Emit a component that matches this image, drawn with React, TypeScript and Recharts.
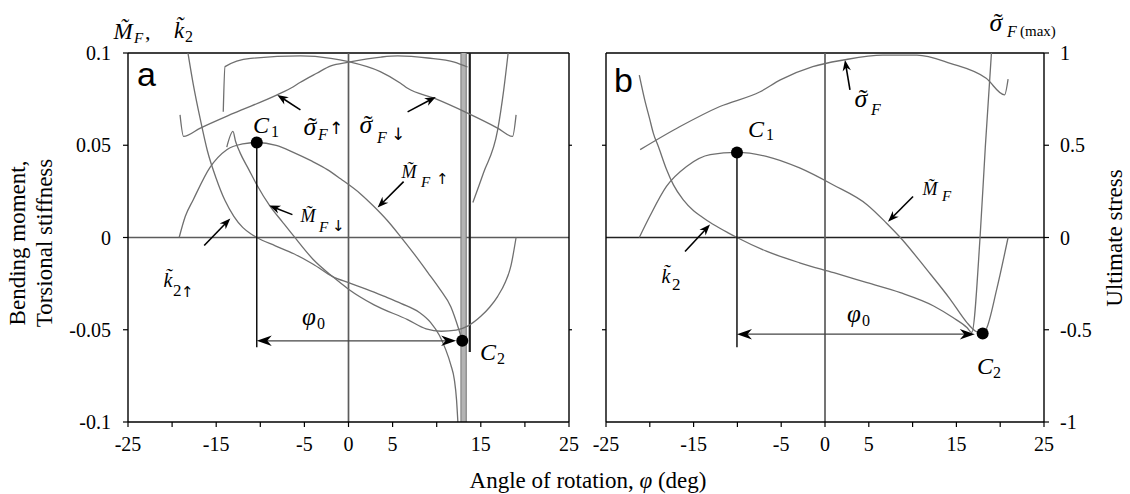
import React from 'react';
import { LineChart, Line, XAxis, YAxis, ReferenceLine, ReferenceDot } from 'recharts';

type Pt = [number, number];
type Seg = [number, number, number, number];

// ---------- axes ----------
const ANGLE_TICKS = [-25, -20, -15, -10, -5, 0, 5, 10, 15, 20, 25];
const ANGLE_LABELED = [-25, -15, -5, 0, 5, 15, 25];
const MOMENT_TICKS = [-0.1, -0.05, 0, 0.05, 0.1];
const MOMENT_MINOR_TICKS = [-0.05, 0.05];
const STRESS_TICKS = [-1, -0.5, 0, 0.5, 1];
const STRESS_MINOR_TICKS = [-0.5, 0.5];

// ---------- panel a: loading (↑) and unloading (↓) branches ----------
const MOMENT_UP_A: Pt[] = [
  [-19.2, 0], [-18.5, 0.0115], [-17.6, 0.0205], [-15.7, 0.038], [-13.8, 0.0476], [-12.0, 0.0507],
  [-10.4, 0.0515], [-8.2, 0.0499], [-6.2, 0.046], [-4.2, 0.0415], [-2.4, 0.0368], [-0.9, 0.0318],
  [1.4, 0.0235], [2.8, 0.0172], [4.4, 0.0092], [5.9, 0.0005], [7.5, -0.0093], [9.0, -0.019],
  [10.4, -0.0283], [11.6, -0.0375], [12.5, -0.0497], [12.9, -0.056],
];
const MOMENT_DOWN_A: Pt[] = [
  [-13.8, 0.049], [-13.1, 0.0575], [-12.8, 0.052], [-12.3, 0.046], [-11.3, 0.0368], [-10.4, 0.0286],
  [-8.9, 0.017], [-7.5, 0.0085], [-6.2, 0.0007], [-4.0, -0.0119], [-1.8, -0.0212], [0.0, -0.028],
  [2.9, -0.0365], [6.7, -0.0445], [8.8, -0.0495], [10.5, -0.0508], [12.2, -0.0502], [13.5, -0.048],
  [15.0, -0.0427], [16.0, -0.0378], [16.9, -0.032], [17.8, -0.024], [18.4, -0.0157], [19.0, 0],
];
const STIFFNESS_UP_A: Pt[] = [
  [-18.2, 0.1], [-17.6, 0.083], [-16.8, 0.064], [-16.0, 0.047], [-15.0, 0.032], [-14.0, 0.02],
  [-13.0, 0.0115], [-12.0, 0.0055], [-11.0, 0.0018], [-10.4, 0], [-8.3, -0.0045], [-6.2, -0.0088],
  [-4.0, -0.0145], [-1.8, -0.0212], [0.0, -0.0245], [2.0, -0.028], [4.0, -0.0318], [6.0, -0.0358],
  [8.0, -0.0405], [9.3, -0.046], [10.3, -0.053], [11.0, -0.0605], [11.6, -0.069], [12.0, -0.077],
  [12.25, -0.088], [12.4, -0.1],
];
const STIFFNESS_DOWN_A: Pt[] = [
  [14.1, 0.019], [15.3, 0.035], [16.9, 0.058], [17.6, 0.08], [18.1, 0.1],
];
const STRESS_UP_A: Pt[] = [
  [-19.1, 0.665], [-18.7, 0.548], [-16.8, 0.593], [-13.0, 0.674], [-8.1, 0.773], [-6.3, 0.816],
  [-5.5, 0.84], [-3.6, 0.89], [-2.0, 0.93], [0.0, 0.95], [3.7, 0.978], [5.6, 0.984], [9.0, 0.973],
  [12.0, 0.951], [13.5, 0.924],
];
const STRESS_DOWN_A: Pt[] = [
  [-14.2, 0.681], [-14.0, 0.926], [-11.1, 0.971], [-5.45, 0.984], [-2.0, 0.971], [0.0, 0.953],
  [3.6, 0.899], [5.9, 0.836], [6.7, 0.809], [9.7, 0.755], [13.5, 0.674], [16.9, 0.593],
  [18.6, 0.548], [19.0, 0.665],
];
// singular branches of the stiffness near the asymptote
const ASYMPTOTE_BAND_A: Pt[] = [[13.05, 0.1], [13.05, -0.1]];
const ASYMPTOTE_EDGE_L_A: Pt[] = [[12.75, 0.1], [12.75, -0.1]];
const ASYMPTOTE_EDGE_R_A: Pt[] = [[13.35, 0.1], [13.35, -0.1]];
const ASYMPTOTE_DARK_A: Pt[] = [[13.75, 0.1], [13.75, -0.062]];

const C1_A: Pt = [-10.4, 0.0515];
const C2_A: Pt = [12.9, -0.056];
const PHI_Y_A = -0.056;
const PHI_TIP_A = 12.2;
const DROP_END_A = -0.0595;
const POINTERS_A: Seg[] = [
  [-5.45, 0.0692, -8.07, 0.0773],
  [6.7, 0.0681, 9.9, 0.0762],
  [6.25, 0.0303, 3.3, 0.0162],
  [-6.36, 0.0124, -8.98, 0.0173],
  [-16.36, -0.0043, -13.4, 0.0103],
];

// ---------- panel b ----------
const MOMENT_B: Pt[] = [
  [-21.2, 0], [-20.0, 0.0115], [-18.1, 0.0277], [-15.8, 0.0385], [-13.1, 0.0449], [-10.05, 0.0461],
  [-6.7, 0.044], [-2.9, 0.0377], [0.9, 0.0286], [4.8, 0.0178], [7.0, 0.0079], [8.6, 0],
  [11.6, -0.0173], [14.3, -0.0335], [16.2, -0.0461], [17.1, -0.0505], [18.0, -0.052],
  [18.4, -0.0497], [19.6, -0.0281], [20.9, 0],
];
const STIFFNESS_B: Pt[] = [
  [-21.2, 0.088], [-20.6, 0.075], [-20.0, 0.064], [-19.6, 0.0566], [-19.0, 0.049], [-18.1, 0.037],
  [-17.3, 0.0285], [-16.2, 0.0205], [-15.0, 0.0145], [-14.0, 0.011], [-13.1, 0.0081], [-12.0, 0.005],
  [-11.0, 0.0024], [-10.05, 0], [-6.7, -0.0074], [-2.9, -0.0137], [1.0, -0.0191], [4.8, -0.0245],
  [8.6, -0.0299], [12.4, -0.0371], [14.6, -0.0434], [16.2, -0.0488], [16.75, -0.0515], [17.7, 0],
  [18.3, 0.049], [19.0, 0.1],
];
const STRESS_B: Pt[] = [
  [-21.1, 0.476], [-16.6, 0.6], [-12.0, 0.71], [-7.4, 0.79], [-5.1, 0.854], [-1.4, 0.926],
  [2.1, 0.962], [6.6, 0.989], [10.5, 0.989], [14.3, 0.944], [18.4, 0.863], [20.5, 0.773], [20.9, 0.858],
];
const C1_B: Pt = [-10.05, 0.0461];
const C2_B: Pt = [18.0, -0.052];
const PHI_Y_B = -0.0524;
const PHI_TIP_B = 17.1;
const DROP_END_B = -0.0595;
const POINTERS_B: Seg[] = [
  [2.85, 0.08, 2.28, 0.0962],
  [10.05, 0.0222, 7.19, 0.0086],
  [-15.98, -0.0076, -13.13, 0.007],
];

// ---------- styling ----------
const SERIF = 'Liberation Serif, DejaVu Serif, serif';
const SANS = 'Liberation Sans, Arial, sans-serif';
const ARROWS = 'DejaVu Sans, sans-serif';
const CURVE = '#6f6f6f';
const GRID = '#5c5c5c';
const TICK_TEXT = { fill: '#000', fontSize: 20, fontFamily: SERIF };
const AXIS_LINE = { stroke: '#000', strokeWidth: 1.4 };
const TICK_LINE = { stroke: '#000', strokeWidth: 1.2 };

const rows = (pts: Pt[]) => pts.map(([x, y]) => ({ x, y }));
const fmtAngle = (v: number) => (ANGLE_LABELED.includes(v) ? String(v) : '');
const fmtPlain = (v: number) => String(v);
const fmtBlank = () => '';

function makeArrow(len: number, half: number, width: number, color: string, both = false) {
  return (p: any) => {
    const x1 = Number(p.x1), y1 = Number(p.y1), x2 = Number(p.x2), y2 = Number(p.y2);
    if (![x1, y1, x2, y2].every(Number.isFinite)) return <g />;
    const dx = x2 - x1, dy = y2 - y1;
    const d = Math.hypot(dx, dy) || 1;
    const ux = dx / d, uy = dy / d;
    const head = (tx: number, ty: number, vx: number, vy: number) => {
      const bx = tx - vx * len, by = ty - vy * len;
      const nx = -vy, ny = vx;
      const mx = tx - vx * len * 0.7, my = ty - vy * len * 0.7;
      return `M${tx},${ty}L${bx + nx * half},${by + ny * half}L${mx},${my}L${bx - nx * half},${by - ny * half}Z`;
    };
    const sx = both ? x1 + ux * len * 0.6 : x1;
    const sy = both ? y1 + uy * len * 0.6 : y1;
    return (
      <g>
        <line x1={sx} y1={sy} x2={x2 - ux * len * 0.6} y2={y2 - uy * len * 0.6} stroke={color} strokeWidth={width} />
        <path d={head(x2, y2, ux, uy)} fill="#000" />
        {both ? <path d={head(x1, y1, -ux, -uy)} fill="#000" /> : null}
      </g>
    );
  };
}

const pointerShape = makeArrow(11, 4.2, 1.6, '#000');
const spanShape = makeArrow(15, 5.2, 1.3, '#444', true);

function curve(key: string, pts: Pt[], axis: string, stroke = CURVE, width = 1.3) {
  return (
    <Line
      key={key}
      yAxisId={axis}
      data={rows(pts)}
      dataKey="y"
      type="monotone"
      stroke={stroke}
      strokeWidth={width}
      dot={false}
      activeDot={false}
      isAnimationActive={false}
    />
  );
}

function pointer(key: string, s: Seg, axis: string) {
  return (
    <ReferenceLine
      key={key}
      yAxisId={axis}
      segment={[{ x: s[0], y: s[1] }, { x: s[2], y: s[3] }]}
      shape={pointerShape}
    />
  );
}

const xAxisEl = (
  <XAxis
    type="number"
    dataKey="x"
    domain={[-25, 25]}
    ticks={ANGLE_TICKS}
    interval={0}
    allowDataOverflow
    height={72}
    tickSize={5}
    tickMargin={10}
    tickFormatter={fmtAngle}
    tick={TICK_TEXT}
    axisLine={AXIS_LINE}
    tickLine={TICK_LINE}
  />
);

function PanelA() {
  return (
    <LineChart width={590} height={494} margin={{ top: 53, right: 0, bottom: 0, left: 0 }}>
      {xAxisEl}
      <YAxis
        yAxisId="m" type="number" domain={[-0.1, 0.1]} ticks={MOMENT_TICKS} interval={0} allowDataOverflow
        width={128} tickSize={5} tickMargin={12} tickFormatter={fmtPlain} tick={TICK_TEXT}
        axisLine={AXIS_LINE} tickLine={TICK_LINE}
      />
      <YAxis
        yAxisId="s" orientation="right" type="number" domain={[-1, 1]} ticks={STRESS_MINOR_TICKS} interval={0}
        allowDataOverflow width={21} tickSize={3} tickMargin={2} tickFormatter={fmtBlank} tick={TICK_TEXT}
        axisLine={AXIS_LINE} tickLine={TICK_LINE}
      />
      <ReferenceLine yAxisId="m" y={0.1} stroke="#000" strokeWidth={1.4} />
      <ReferenceLine yAxisId="m" y={0} stroke={GRID} strokeWidth={1.7} />
      <ReferenceLine yAxisId="m" x={0} stroke={GRID} strokeWidth={1.7} />

      {curve('band', ASYMPTOTE_BAND_A, 'm', '#b4b4b4', 5)}
      {curve('edgeL', ASYMPTOTE_EDGE_L_A, 'm', '#7a7a7a', 1.1)}
      {curve('edgeR', ASYMPTOTE_EDGE_R_A, 'm', '#7a7a7a', 1.1)}
      {curve('dark', ASYMPTOTE_DARK_A, 'm', '#1e1e1e', 2.2)}

      {curve('sUp', STRESS_UP_A, 's')}
      {curve('sDown', STRESS_DOWN_A, 's')}
      {curve('mUp', MOMENT_UP_A, 'm')}
      {curve('mDown', MOMENT_DOWN_A, 'm')}
      {curve('kUp', STIFFNESS_UP_A, 'm')}
      {curve('kDown', STIFFNESS_DOWN_A, 'm')}

      <ReferenceLine
        yAxisId="m"
        segment={[{ x: C1_A[0], y: C1_A[1] }, { x: C1_A[0], y: DROP_END_A }]}
        stroke="#000"
        strokeWidth={1.4}
      />
      <ReferenceLine
        yAxisId="m"
        segment={[{ x: C1_A[0], y: PHI_Y_A }, { x: PHI_TIP_A, y: PHI_Y_A }]}
        shape={spanShape}
      />
      {POINTERS_A.map((s, i) => pointer(`pa${i}`, s, 'm'))}
      <ReferenceDot yAxisId="m" x={C1_A[0]} y={C1_A[1]} r={6} fill="#000" stroke="none" />
      <ReferenceDot yAxisId="m" x={C2_A[0]} y={C2_A[1]} r={6} fill="#000" stroke="none" />
    </LineChart>
  );
}

function PanelB() {
  return (
    <LineChart width={540} height={494} margin={{ top: 53, right: 0, bottom: 0, left: 0 }}>
      {xAxisEl}
      <YAxis
        yAxisId="m" type="number" domain={[-0.1, 0.1]} ticks={MOMENT_MINOR_TICKS} interval={0} allowDataOverflow
        width={16} tickSize={4} tickMargin={2} tickFormatter={fmtBlank} tick={TICK_TEXT}
        axisLine={AXIS_LINE} tickLine={TICK_LINE}
      />
      <YAxis
        yAxisId="s" orientation="right" type="number" domain={[-1, 1]} ticks={STRESS_TICKS} interval={0}
        allowDataOverflow width={86} tickSize={5} tickMargin={11} tickFormatter={fmtPlain} tick={TICK_TEXT}
        axisLine={AXIS_LINE} tickLine={TICK_LINE}
      />
      <ReferenceLine yAxisId="m" y={0.1} stroke="#000" strokeWidth={1.4} />
      <ReferenceLine yAxisId="m" y={0} stroke="#222" strokeWidth={1.5} />
      <ReferenceLine yAxisId="m" x={0} stroke={GRID} strokeWidth={1.7} />

      {curve('s', STRESS_B, 's')}
      {curve('m', MOMENT_B, 'm')}
      {curve('k', STIFFNESS_B, 'm')}

      <ReferenceLine
        yAxisId="m"
        segment={[{ x: C1_B[0], y: C1_B[1] }, { x: C1_B[0], y: DROP_END_B }]}
        stroke="#000"
        strokeWidth={1.4}
      />
      <ReferenceLine
        yAxisId="m"
        segment={[{ x: C1_B[0], y: PHI_Y_B }, { x: PHI_TIP_B, y: PHI_Y_B }]}
        shape={spanShape}
      />
      {POINTERS_B.map((s, i) => pointer(`pb${i}`, s, 'm'))}
      <ReferenceDot yAxisId="m" x={C1_B[0]} y={C1_B[1]} r={6} fill="#000" stroke="none" />
      <ReferenceDot yAxisId="m" x={C2_B[0]} y={C2_B[1]} r={6} fill="#000" stroke="none" />
    </LineChart>
  );
}

// ---------- symbols and titles ----------
// each piece: x, y (baseline), text, size, italic, centred, arrow glyph, upright tilde accent
type Piece = {
  x: number; y: number; t: string; size: number;
  it?: boolean; mid?: boolean; arrow?: boolean; accent?: boolean;
};
type Label = { sans?: boolean; parts: Piece[] };

const T = '\u0303'; // combining tilde (Latin letters)
const sigma = (x: number, y: number, size: number): Piece[] => [
  { x, y, t: 'σ', size, it: true, mid: true },
  { x: x + size * 0.08, y, t: '\u02DC', size, mid: true, accent: true },
];

const LABELS: Label[] = [
  // panel a heading
  { parts: [{ x: 123, y: 39, t: 'M' + T, size: 23, it: true, mid: true }, { x: 134, y: 43, t: 'F', size: 15, it: true }, { x: 145, y: 39, t: ',', size: 22 }] },
  { parts: [{ x: 179, y: 38, t: 'k' + T, size: 23, it: true, mid: true }, { x: 185, y: 42, t: '2', size: 16 }] },
  // panel a
  { sans: true, parts: [{ x: 137, y: 86, t: 'a', size: 34 }] },
  { parts: [{ x: 253, y: 133, t: 'C', size: 24, it: true }, { x: 271, y: 137, t: '1', size: 16 }] },
  { parts: [...sigma(310, 135, 26), { x: 318, y: 140, t: 'F', size: 16, it: true }, { x: 329, y: 134, t: '↑', size: 17, arrow: true }] },
  { parts: [...sigma(366, 133, 26), { x: 377, y: 143, t: 'F', size: 16, it: true }, { x: 391, y: 140, t: '↓', size: 17, arrow: true }] },
  { parts: [{ x: 409, y: 178, t: 'M' + T, size: 18, it: true, mid: true }, { x: 421, y: 187, t: 'F', size: 15, it: true }, { x: 436, y: 184, t: '↑', size: 15, arrow: true }] },
  { parts: [{ x: 308, y: 222, t: 'M' + T, size: 18, it: true, mid: true }, { x: 319, y: 232, t: 'F', size: 15, it: true }, { x: 332, y: 231, t: '↓', size: 15, arrow: true }] },
  { parts: [{ x: 168, y: 287, t: 'k' + T, size: 20, it: true, mid: true }, { x: 173, y: 296, t: '2', size: 17 }, { x: 181, y: 297, t: '↑', size: 15, arrow: true }] },
  { parts: [{ x: 480, y: 360, t: 'C', size: 24, it: true }, { x: 497, y: 364, t: '2', size: 16 }] },
  { parts: [{ x: 302, y: 325, t: 'φ', size: 25, it: true }, { x: 317, y: 329, t: '0', size: 16 }] },
  // panel b
  { sans: true, parts: [{ x: 614, y: 92, t: 'b', size: 34 }] },
  { parts: [{ x: 748, y: 137, t: 'C', size: 24, it: true }, { x: 766, y: 140, t: '1', size: 16 }] },
  { parts: [...sigma(861, 107, 26), { x: 871, y: 115, t: 'F', size: 16, it: true }] },
  { parts: [{ x: 930, y: 195, t: 'M' + T, size: 18, it: true, mid: true }, { x: 942, y: 201, t: 'F', size: 15, it: true }] },
  { parts: [{ x: 666, y: 283, t: 'k' + T, size: 20, it: true, mid: true }, { x: 672, y: 290, t: '2', size: 17 }] },
  { parts: [{ x: 977, y: 374, t: 'C', size: 24, it: true }, { x: 993, y: 378, t: '2', size: 16 }] },
  { parts: [{ x: 847, y: 322, t: 'φ', size: 25, it: true }, { x: 862, y: 326, t: '0', size: 16 }] },
  // right heading
  { parts: [...sigma(996, 31, 26), { x: 1007, y: 37, t: 'F', size: 16, it: true }, { x: 1020, y: 36, t: '(max)', size: 15 }] },
];

function Labels() {
  return (
    <>
      {LABELS.map((lab, i) => (
        <text key={i} fontFamily={lab.sans ? SANS : SERIF} fill="#000">
          {lab.parts.map((p, j) => (
            <tspan
              key={j}
              x={p.x}
              y={p.y}
              fontSize={p.size}
              fontFamily={p.arrow ? ARROWS : undefined}
              fontStyle={p.it ? 'italic' : 'normal'}
              textAnchor={p.mid ? 'middle' : 'start'}
            >
              {p.t}
            </tspan>
          ))}
        </text>
      ))}
    </>
  );
}

export default function App() {
  return (
    <div style={{ position: 'absolute', left: 0, top: 0, width: 1130, height: 494, background: '#fff', overflow: 'hidden' }}>
      <div style={{ position: 'absolute', left: 0, top: 0 }}>
        <PanelA />
      </div>
      <div style={{ position: 'absolute', left: 590, top: 0 }}>
        <PanelB />
      </div>
      <svg
        width={1130}
        height={494}
        style={{ position: 'absolute', left: 0, top: 0, pointerEvents: 'none' }}
      >
        <Labels />
        <text transform="translate(25,243) rotate(-90)" textAnchor="middle" fontSize={23} fontFamily={SERIF} fill="#000">
          Bending moment,
        </text>
        <text transform="translate(52,243) rotate(-90)" textAnchor="middle" fontSize={23} fontFamily={SERIF} fill="#000">
          Torsional stiffness
        </text>
        <text transform="translate(1122,238) rotate(-90)" textAnchor="middle" fontSize={23} fontFamily={SERIF} fill="#000">
          Ultimate stress
        </text>
        <text x={588} y={488} textAnchor="middle" fontSize={23} fontFamily={SERIF} fill="#000">
          Angle of rotation, <tspan fontStyle="italic">φ</tspan> (deg)
        </text>
      </svg>
    </div>
  );
}
